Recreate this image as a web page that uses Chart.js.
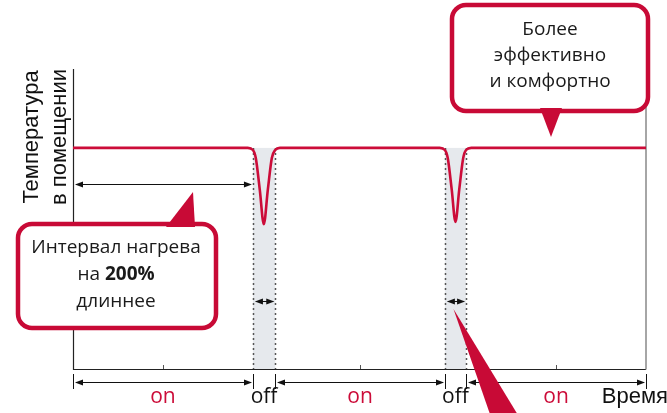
<!DOCTYPE html>
<html>
<head>
<meta charset="utf-8">
<script src="https://cdn.jsdelivr.net/npm/chart.js@4"></script>
<style>
html,body{margin:0;padding:0;background:#fff;}
#wrap{width:667px;height:413px;position:relative;}
</style>
</head>
<body>
<div id="wrap"><canvas id="c" width="667" height="413"></canvas></div>
<script>
// ---- data ----
const time = [0, 30.5, 31.4, 31.9, 32.6, 33.3, 34.0, 34.7, 35.3, 36.1, 64.0, 64.9, 65.4, 66.1, 66.75, 67.4, 68.1, 68.6, 69.5, 100];
const temperature = [73.7, 73.7, 73.0, 70.3, 59.7, 48.3, 59.7, 70.3, 73.0, 73.7, 73.7, 73.0, 70.3, 59.7, 49.0, 59.7, 70.3, 73.0, 73.7, 73.7];
const offStart = [31.4, 64.9];
const offEnd = [35.3, 68.6];
const intervalStart = [0, 31.4, 35.3, 64.9, 68.6];
const intervalEnd = [31.4, 35.3, 64.9, 68.6, 100];
const intervalLabels = ['on', 'off', 'on', 'off', 'on'];
const midTicks = [15.7, 50.1, 84.3];
const yAxisLabel = ['Температура', 'в помещении'];
const xAxisLabel = 'Время';
const callout1 = ['Интервал нагрева', ['на ', '200%'], 'длиннее'];
const callout2 = ['Более', 'эффективно', 'и комфортно'];

const RED = '#cc0c39';
const CALL = '#c80a36';

function arrowHead(ctx, x, y, dir) {
  ctx.beginPath();
  ctx.moveTo(x, y);
  ctx.lineTo(x - dir * 8, y - 3);
  ctx.lineTo(x - dir * 8, y + 3);
  ctx.closePath();
  ctx.fill();
}
function dimArrow(ctx, x1, x2, y) {
  ctx.beginPath();
  ctx.moveTo(x1 + 2, y); ctx.lineTo(x2 - 2, y); ctx.stroke();
  arrowHead(ctx, x1 + 1, y, -1);
  arrowHead(ctx, x2 - 1, y, 1);
}
function callout(ctx, x, y, w, h, tri) {
  ctx.save();
  ctx.fillStyle = '#fff';
  ctx.strokeStyle = CALL;
  ctx.lineWidth = 4.5;
  ctx.beginPath();
  ctx.roundRect(x, y, w, h, 14);
  ctx.fill();
  ctx.stroke();
  ctx.fillStyle = CALL;
  ctx.beginPath();
  ctx.moveTo(tri[0][0], tri[0][1]);
  ctx.lineTo(tri[1][0], tri[1][1]);
  ctx.lineTo(tri[2][0], tri[2][1]);
  ctx.closePath();
  ctx.fill();
  ctx.restore();
}

const decor = {
  id: 'decor',
  beforeDatasetsDraw(chart) {
    const ctx = chart.ctx, a = chart.chartArea;
    const xs = chart.scales.x, ys = chart.scales.y;
    const top = ys.getPixelForValue(73.7);
    ctx.save();
    ctx.fillStyle = '#e6e9ed';
    for (let i = 0; i < offStart.length; i++) {
      const x1 = xs.getPixelForValue(offStart[i]), x2 = xs.getPixelForValue(offEnd[i]);
      ctx.fillRect(x1, top, x2 - x1, a.bottom - top);
    }
    ctx.strokeStyle = '#555';
    ctx.lineWidth = 1.5;
    ctx.setLineDash([2, 3]);
    for (let i = 0; i < offStart.length; i++) {
      [offStart[i], offEnd[i]].forEach(v => {
        const x = Math.round(xs.getPixelForValue(v)) + 0.5;
        ctx.beginPath(); ctx.moveTo(x, top); ctx.lineTo(x, a.bottom); ctx.stroke();
      });
    }
    ctx.setLineDash([]);
    ctx.lineWidth = 1.2;
    ctx.strokeStyle = '#222';
    ctx.beginPath();
    ctx.moveTo(a.left + 0.5, a.top); ctx.lineTo(a.left + 0.5, a.bottom + 0.5); ctx.lineTo(a.right, a.bottom + 0.5);
    ctx.stroke();
    ctx.strokeStyle = '#888';
    ctx.lineWidth = 1.5;
    ctx.beginPath(); ctx.moveTo(a.right, a.top); ctx.lineTo(a.right, a.bottom + 0.5); ctx.stroke();
    ctx.strokeStyle = '#555';
    ctx.lineWidth = 1;
    midTicks.forEach(v => {
      const x = Math.round(xs.getPixelForValue(v)) + 0.5;
      ctx.beginPath(); ctx.moveTo(x, a.bottom - 4); ctx.lineTo(x, a.bottom); ctx.stroke();
    });
    ctx.restore();
  },
  afterDatasetsDraw(chart) {
    const ctx = chart.ctx, a = chart.chartArea;
    const xs = chart.scales.x, ys = chart.scales.y;
    ctx.save();
    ctx.strokeStyle = '#111';
    ctx.fillStyle = '#111';
    ctx.lineWidth = 1;
    const ay = 184.5;
    dimArrow(ctx, xs.getPixelForValue(intervalStart[0]) + 1, xs.getPixelForValue(intervalEnd[0]), ay);
    for (let i = 0; i < offStart.length; i++) {
      dimArrow(ctx, xs.getPixelForValue(offStart[i]) + 1, xs.getPixelForValue(offEnd[i]), 301.5);
    }
    const dy = 382.5;
    const edges = new Set();
    for (let i = 0; i < intervalStart.length; i++) { edges.add(intervalStart[i]); edges.add(intervalEnd[i]); }
    edges.forEach(v => {
      const x = Math.round(xs.getPixelForValue(v)) + 0.5;
      ctx.beginPath(); ctx.moveTo(x, 374); ctx.lineTo(x, 389); ctx.stroke();
    });
    for (let i = 0; i < intervalStart.length; i++) {
      if (intervalLabels[i] === 'on') {
        dimArrow(ctx, Math.round(xs.getPixelForValue(intervalStart[i])) + 1, Math.round(xs.getPixelForValue(intervalEnd[i])), dy);
      }
    }
    ctx.font = '21px "Open Sans"';
    ctx.textAlign = 'center';
    ctx.textBaseline = 'middle';
    for (let i = 0; i < intervalStart.length; i++) {
      const cx = xs.getPixelForValue((intervalStart[i] + intervalEnd[i]) / 2);
      ctx.fillStyle = intervalLabels[i] === 'on' ? RED : '#111';
      ctx.fillText(intervalLabels[i], cx, 397);
    }
    ctx.fillStyle = '#111';
    ctx.font = '22px "Liberation Sans"';
    ctx.textAlign = 'right';
    ctx.fillText(xAxisLabel, 668, 397);
    ctx.font = '22px "Liberation Sans"';
    ctx.textAlign = 'center';
    ctx.textBaseline = 'middle';
    ctx.fillStyle = '#111';
    [[32, yAxisLabel[0]], [60, yAxisLabel[1]]].forEach(([x, t]) => {
      ctx.save();
      ctx.translate(x, 137);
      ctx.rotate(-Math.PI / 2);
      ctx.fillText(t, 0, 0);
      ctx.restore();
    });
    callout(ctx, 18, 224, 198, 104, [[166, 227], [193, 192], [195, 227]]);
    callout(ctx, 452, 5, 196, 106, [[540, 108], [551, 137], [562, 108]]);
    const FS = 19;
    ctx.fillStyle = '#1a1a1a';
    ctx.textAlign = 'center';
    ctx.textBaseline = 'middle';
    ctx.font = FS + 'px "Open Sans"';
    ctx.fillText(callout1[0], 116, 248);
    const p1 = callout1[1][0], p2 = callout1[1][1];
    ctx.font = FS + 'px "Open Sans"';
    const w1 = ctx.measureText(p1).width;
    ctx.font = 'bold ' + FS + 'px "Open Sans"';
    const w2 = ctx.measureText(p2).width;
    let sx = 116 - (w1 + w2) / 2;
    ctx.textAlign = 'left';
    ctx.font = FS + 'px "Open Sans"';
    ctx.fillText(p1, sx, 275);
    ctx.font = 'bold ' + FS + 'px "Open Sans"';
    ctx.fillText(p2, sx + w1, 275);
    ctx.textAlign = 'center';
    ctx.font = FS + 'px "Open Sans"';
    ctx.fillText(callout1[2], 116, 302);
    callout2.forEach((t, i) => ctx.fillText(t, 550, 30 + i * 26));
    ctx.fillStyle = CALL;
    const tx = xs.getPixelForValue((offStart[1] + offEnd[1]) / 2) - 2;
    ctx.beginPath();
    ctx.moveTo(tx, 309);
    ctx.lineTo(492, 420);
    ctx.lineTo(521, 420);
    ctx.closePath();
    ctx.fill();
    ctx.restore();
  }
};

new Chart(document.getElementById('c'), {
  type: 'line',
  data: {
    datasets: [{
      data: time.map((t, i) => ({ x: t, y: temperature[i] })),
      borderColor: RED,
      borderWidth: 2.6,
      pointRadius: 0,
      cubicInterpolationMode: 'monotone',
      fill: false
    }]
  },
  options: {
    responsive: false,
    animation: false,
    devicePixelRatio: 1,
    layout: { padding: { left: 73, right: 21, top: 69, bottom: 44 } },
    plugins: { legend: { display: false }, tooltip: { enabled: false } },
    scales: {
      x: { type: 'linear', min: 0, max: 100, display: false },
      y: { min: 0, max: 100, display: false }
    }
  },
  plugins: [decor]
});
</script>
</body>
</html>
